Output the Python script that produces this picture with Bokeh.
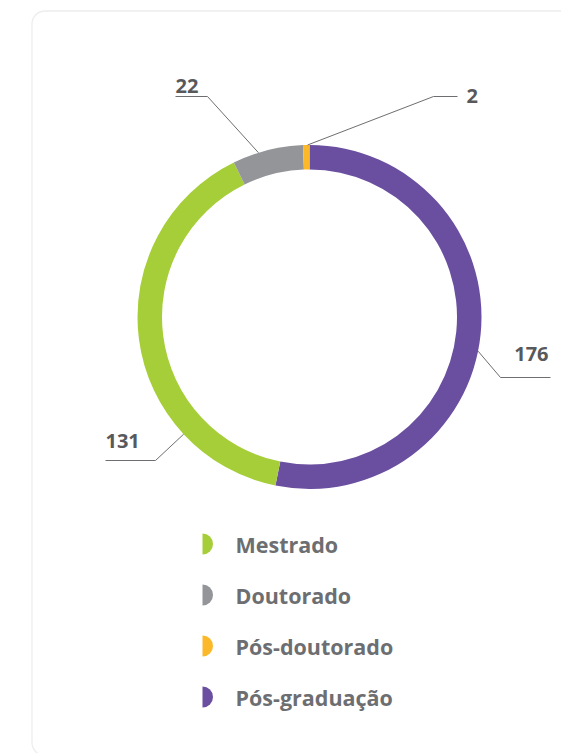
import numpy as np
from bokeh.plotting import figure
from bokeh.models import Range1d, BoxAnnotation, ColumnDataSource
from bokeh.core.properties import value
from bokeh.embed import file_html
from bokeh.resources import INLINE

# ---- data ----
categories = ["Mestrado", "Doutorado", "Pós-doutorado", "Pós-graduação"]
counts = [131, 22, 2, 176]
value_labels = ["131", "22", "2", "176"]
colors = ["#a6ce39", "#939598", "#fbb829", "#6a4fa0"]
ring_order = [3, 0, 1, 2]          # clockwise from 12 o'clock

# ---- layout (page pixels) ----
W, H = 561, 753
CX, CY = 309, 316.5
R_OUT, R_IN = 172, 147.5
anchor_frac = [0.25, 0.37, 0.7, 0.53]          # where the leader leaves the slice
elbows = [(155, 460), (207, 96), (433, 96), (500, 377)]
line_end_x = [105, 175, 457, 550]
label_pos = [(105, 440, "left"), (175, 85.5, "left"), (466, 95, "left"), (548, 353, "right")]
LEG_X, LEG_Y0, LEG_DY = 202, 543.5, 51

def Y(py):
    return -py

p = figure(width=W, height=H, output_backend="svg", toolbar_location=None,
           x_range=Range1d(0, W), y_range=Range1d(-H, 0), min_border=0)
p.axis.visible = False
p.grid.visible = False
p.outline_line_color = None
p.background_fill_color = "white"
p.border_fill_color = "white"

card = BoxAnnotation(left=31.5, right=700, top=Y(10.5), bottom=Y(755), border_radius=13,
                     fill_color="white", fill_alpha=1, line_color="#c4c4c4", line_width=1.3,
                     level="underlay")
p.add_layout(card)

total = float(sum(counts))
theta = 0.0
starts, ends, cols, anchors_x, anchors_y = [], [], [], {}, {}
for i in ring_order:
    span = counts[i] / total * 2 * np.pi
    ts, te = theta, theta + span
    starts.append(np.pi / 2 - ts)
    ends.append(np.pi / 2 - te)
    cols.append(colors[i])
    ta = ts + anchor_frac[i] * span
    anchors_x[i] = CX + R_OUT * np.sin(ta)
    anchors_y[i] = CY - R_OUT * np.cos(ta)
    theta = te

src = ColumnDataSource(dict(start=starts, end=ends, color=cols))
p.annular_wedge(x=CX, y=Y(CY), inner_radius=R_IN, outer_radius=R_OUT,
                start_angle="start", end_angle="end", direction="clock",
                fill_color="color", line_color=None, source=src)

# leader lines + value labels
for i in range(len(categories)):
    ex, ey = elbows[i]
    xs = [anchors_x[i], ex, line_end_x[i]]
    ys = [Y(anchors_y[i]), Y(ey), Y(ey)]
    p.line(xs, ys, line_color="#6d6e71", line_width=1)
    lx, ly, al = label_pos[i]
    p.text(x=[lx], y=[Y(ly)], text=[value_labels[i]], text_align=al, text_baseline="middle",
           text_font=value("Open Sans"), text_font_style="bold", text_font_size="20px",
           text_color="#58595b")

# legend
for i, cat in enumerate(categories):
    ly = LEG_Y0 + i * LEG_DY
    p.wedge(x=LEG_X, y=Y(ly), radius=10.5, start_angle=-np.pi / 2, end_angle=np.pi / 2,
            direction="anticlock", fill_color=colors[i], line_color=None)
    p.text(x=[LEG_X + 33], y=[Y(ly)], text=[cat], text_align="left", text_baseline="middle",
           text_font=value("Open Sans"), text_font_style="bold", text_font_size="21.5px",
           text_color="#6d6e71")

open("out.html", "w").write(file_html(p, INLINE))
